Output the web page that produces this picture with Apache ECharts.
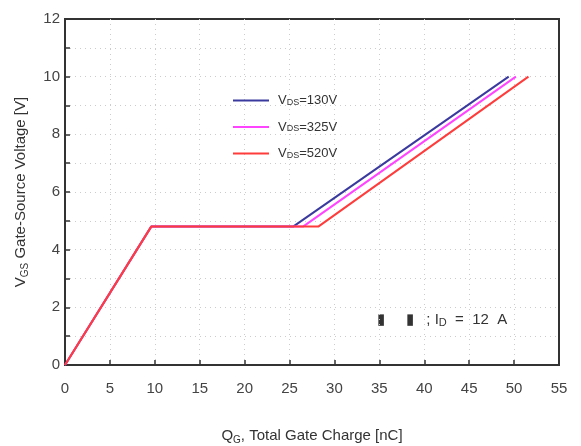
<!DOCTYPE html>
<html><head><meta charset="utf-8">
<script src="https://cdn.jsdelivr.net/npm/echarts@6/dist/echarts.min.js"></script>
<style>html,body{margin:0;padding:0;background:#fff}#c{width:581px;height:446px}</style>
</head><body><div id="c"></div>
<script>
// Data (Qg in nC, Vgs in V)
const seriesNames = ['130V', '325V', '520V'];
const qg130 = [0, 9.6, 25.4, 49.4];
const vgs130 = [0, 4.8, 4.8, 10];
const qg325 = [0, 9.6, 26.5, 50.2];
const vgs325 = [0, 4.8, 4.8, 10];
const qg520 = [0, 9.6, 28.2, 51.6];
const vgs520 = [0, 4.8, 4.8, 10];
const xTicks = [0, 5, 10, 15, 20, 25, 30, 35, 40, 45, 50, 55];
const yTicks = [0, 2, 4, 6, 8, 10, 12];
const colors = ['#3a3a9e', '#ff44ff', '#ff3c3c'];

const pts = (xs, ys) => xs.map((x, i) => [x, ys[i]]);
const F = 'Liberation Sans, Arial, sans-serif';
const chart = echarts.init(document.getElementById('c'));
const boxAxis = {show: true, lineStyle: {color: '#333', width: 2}};
chart.setOption({
  animation: false,
  grid: {left: 65, top: 19, right: 22, bottom: 81, outerBoundsMode: 'none', containLabel: false,
    show: true, borderColor: '#333', borderWidth: 2, backgroundColor: 'transparent'},
  legend: {
    left: 228, top: 89, orient: 'vertical', itemGap: 13.5, itemWidth: 36, itemHeight: 2,
    icon: 'rect',
    data: seriesNames.map(n => 'V' + n),
    formatter: n => '{m|V}{s|DS}{m|=' + n.slice(1) + '}',
    textStyle: {fontFamily: F, color: '#333', padding: [0,0,0,4],
      rich: {m: {fontSize: 13, fontFamily: F, color: '#333'}, s: {fontSize: 9, fontFamily: F, color: '#333', padding: [4,0,0,0]}}}
  },
  xAxis: {
    type: 'value', min: 0, max: 55, interval: 5,
    name: '{m|Q}{s|G}{m|, Total Gate Charge [nC]}', nameLocation: 'middle', nameGap: 62,
    nameTextStyle: {rich: {m: {fontSize: 15, fontFamily: F, color: '#333'}, s: {fontSize: 10, fontFamily: F, color: '#333', padding: [8,0,0,0]}}},
    axisLine: boxAxis,
    axisTick: {show: true, inside: true, length: 5, lineStyle: {color: '#333', width: 1.5}},
    axisLabel: {fontSize: 15, fontFamily: F, color: '#444', margin: 16, formatter: v => xTicks.includes(v) ? String(v) : ''},
    splitLine: {show: true, showMinLine: false, showMaxLine: false, lineStyle: {color: '#ccc', type: [1, 4], width: 1}}
  },
  yAxis: {
    type: 'value', min: 0, max: 12, interval: 1,
    name: '{m|V}{s|GS}{m| Gate-Source Voltage [V]}', nameLocation: 'middle', nameGap: 35,
    nameTextStyle: {rich: {m: {fontSize: 15, fontFamily: F, color: '#333'}, s: {fontSize: 10, fontFamily: F, color: '#333', padding: [8,0,0,0]}}},
    axisLine: boxAxis,
    axisTick: {show: true, inside: true, length: 5, lineStyle: {color: '#333', width: 1.5}},
    axisLabel: {fontSize: 15, fontFamily: F, color: '#444', margin: 5, formatter: v => yTicks.includes(v) ? String(v) : ''},
    splitLine: {show: true, showMinLine: false, showMaxLine: false, lineStyle: {color: '#ccc', type: [1, 4], width: 1}}
  },
  series: [
    {name: 'V130V', type: 'line', data: pts(qg130, vgs130), symbol: 'none', lineStyle: {color: colors[0], width: 2}, itemStyle: {color: colors[0]}},
    {name: 'V325V', type: 'line', data: pts(qg325, vgs325), symbol: 'none', lineStyle: {color: colors[1], width: 2}, itemStyle: {color: colors[1]}},
    {name: 'V520V', type: 'line', data: pts(qg520, vgs520), symbol: 'none', lineStyle: {color: colors[2], width: 2}, itemStyle: {color: colors[2]}}
  ],
  graphic: [{
    type: 'text', left: 377, top: 312,
    style: {
      text: '{m|▮     ▮   ; I}{s|D}{m|  =  12  A}',
      rich: {m: {fontSize: 15, fontFamily: F, fill: '#333'}, s: {fontSize: 11, fontFamily: F, fill: '#333', padding: [7,0,0,0]}}
    }
  }]
});
</script></body></html>
